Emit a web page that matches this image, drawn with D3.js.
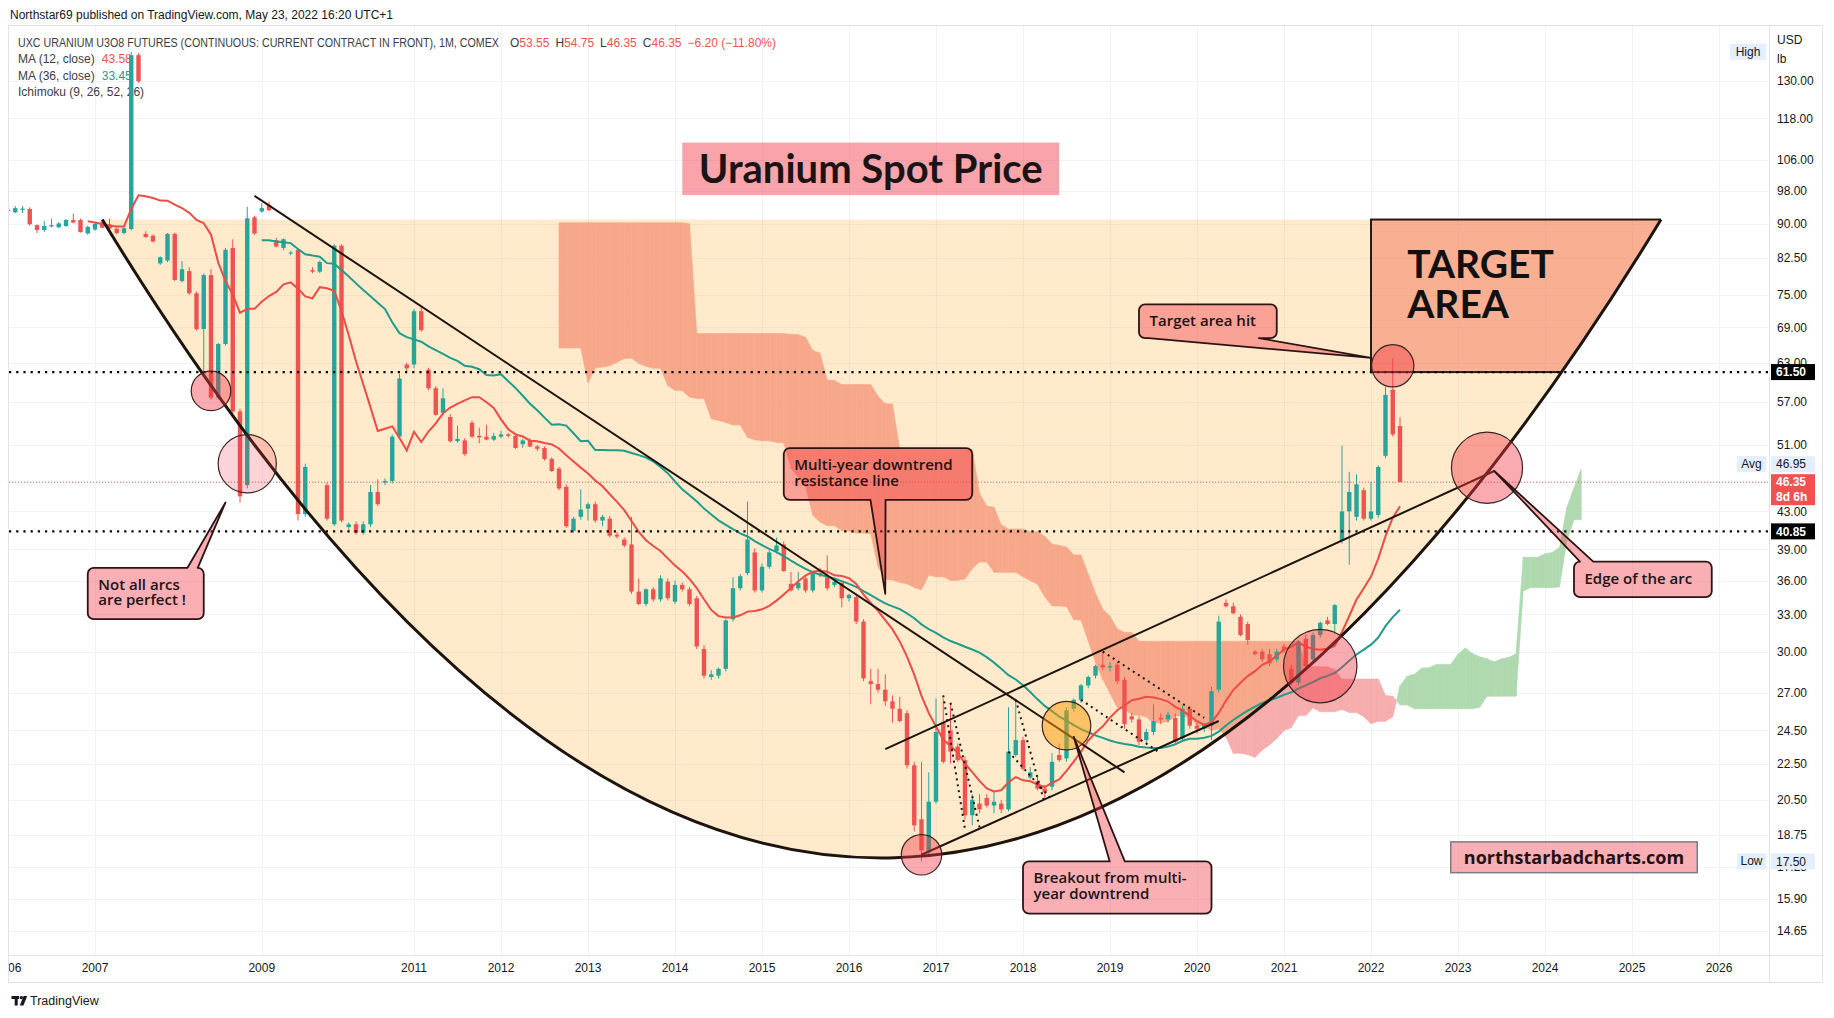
<!DOCTYPE html>
<html>
<head>
<meta charset="utf-8">
<title>Uranium Spot Price</title>
<script src="https://cdn.jsdelivr.net/npm/d3@7"></script>
<style>
  html, body { margin: 0; padding: 0; background: #fff; }
  svg { display: block; }
</style>
</head>
<body>
<svg id="chart" width="1834" height="1018"></svg>
<script>
// monthly bars: month, open, high, low, close (a few months are missing in the feed)
const candles = [
  ["2006-01", 93.0, 93.8, 92.4, 93.3], ["2006-02", 92.7, 94.2, 92.5, 93.7], ["2006-03", 93.3, 94.2, 92.6, 93.6],
  ["2006-04", 93.5, 93.9, 89.6, 89.9], ["2006-05", 89.7, 89.9, 87.9, 88.6], ["2006-06", 88.6, 90.7, 88.2, 89.5],
  ["2006-07", 89.4, 91.2, 89.2, 89.7], ["2006-08", 89.2, 90.4, 89.0, 90.1], ["2006-09", 89.5, 91.1, 89.3, 90.9],
  ["2006-10", 90.9, 92.4, 90.1, 90.3], ["2006-11", 90.9, 91.2, 88.0, 88.1], ["2006-12", 87.8, 89.6, 87.5, 89.3],
  ["2007-01", 88.7, 90.3, 88.4, 90.0], ["2007-02", 90.4, 91.0, 89.0, 89.1], ["2007-03", 89.9, 91.2, 88.7, 88.9],
  ["2007-04", 88.9, 89.2, 87.6, 87.9], ["2007-05", 87.9, 89.2, 87.6, 89.0], ["2007-06", 88.8, 140.0, 88.5, 138.8],
  ["2007-07", 138.8, 139.5, 129.3, 129.8], ["2007-08", 87.7, 88.3, 86.8, 87.0], ["2007-09", 87.3, 87.6, 85.8, 86.0],
  ["2007-10", 81.3, 82.8, 81.0, 82.6], ["2007-11", 81.9, 87.9, 81.6, 87.7], ["2007-12", 87.7, 88.0, 77.7, 77.9],
  ["2008-01", 77.7, 81.8, 77.4, 80.1], ["2008-02", 79.7, 80.5, 75.0, 75.3], ["2008-03", 75.3, 75.6, 68.4, 68.7],
  ["2008-04", 68.7, 79.2, 61.3, 78.9], ["2008-05", 78.9, 80.1, 57.3, 57.6], ["2008-06", 57.6, 66.3, 57.3, 66.1],
  ["2008-07", 66.1, 84.6, 65.8, 84.2], ["2008-08", 84.6, 86.5, 55.3, 55.6], ["2008-09", 55.6, 56.0, 44.0, 44.7],
  ["2008-10", 46.0, 94.0, 45.6, 91.3], ["2008-11", 91.5, 91.9, 87.5, 87.8],
  ["2009-01", 92.9, 94.9, 92.6, 93.7], ["2009-02", 94.5, 95.3, 93.0, 93.2], ["2009-03", 86.3, 86.8, 84.7, 84.9],
  ["2009-04", 84.6, 86.7, 84.1, 86.5], ["2009-05", 83.4, 84.0, 83.0, 83.6], ["2009-06", 84.2, 84.5, 42.0, 42.7],
  ["2009-07", 42.7, 48.6, 42.4, 48.2], ["2009-08", 79.9, 80.5, 79.3, 79.6], ["2009-09", 79.6, 81.9, 79.3, 81.6],
  ["2009-10", 46.0, 46.3, 42.0, 42.2], ["2009-11", 41.6, 85.4, 41.4, 85.1],
  ["2010-01", 85.1, 85.4, 41.8, 42.0], ["2010-02", 41.3, 41.8, 41.0, 41.6], ["2010-03", 41.6, 41.9, 40.5, 40.7],
  ["2010-04", 40.7, 41.9, 40.5, 41.6], ["2010-05", 41.6, 46.0, 41.3, 45.2],
  ["2010-07", 45.2, 46.7, 43.6, 43.8], ["2010-08", 46.3, 46.8, 46.0, 46.5], ["2010-09", 46.5, 52.4, 46.2, 52.1],
  ["2010-10", 52.1, 61.2, 51.8, 60.5], ["2010-11", 62.7, 63.0, 61.6, 62.1],
  ["2011-01", 62.7, 72.3, 62.1, 71.9], ["2011-02", 71.9, 72.9, 68.2, 68.5], ["2011-03", 61.9, 62.2, 58.7, 59.0],
  ["2011-04", 59.0, 59.3, 55.0, 55.1], ["2011-05", 55.4, 59.0, 55.1, 57.5], ["2011-06", 54.8, 55.2, 51.3, 51.5],
  ["2011-07", 51.5, 53.6, 51.3, 51.8], ["2011-08", 51.6, 51.9, 49.6, 49.8], ["2011-09", 54.0, 54.3, 51.9, 52.1],
  ["2011-10", 52.2, 53.3, 51.2, 52.0], ["2011-11", 52.1, 53.7, 51.6, 51.7], ["2011-12", 51.7, 52.6, 51.5, 52.2],
  ["2012-01", 52.1, 52.9, 51.9, 52.4], ["2012-02", 52.4, 52.6, 52.0, 52.2], ["2012-03", 52.2, 52.4, 50.5, 50.6],
  ["2012-04", 51.1, 51.8, 50.6, 51.6], ["2012-05", 51.6, 51.9, 50.7, 50.8], ["2012-06", 50.8, 51.0, 50.2, 50.5],
  ["2012-07", 50.6, 50.8, 49.0, 49.2], ["2012-08", 49.2, 49.4, 47.6, 47.7], ["2012-09", 48.0, 48.2, 45.4, 45.6],
  ["2012-10", 45.8, 46.1, 41.2, 41.4], ["2012-11", 40.9, 42.4, 40.7, 42.2], ["2012-12", 42.4, 45.5, 42.1, 43.2],
  ["2013-01", 43.3, 44.0, 42.0, 43.8], ["2013-02", 43.8, 44.1, 41.8, 42.0], ["2013-03", 42.0, 42.6, 41.4, 42.4],
  ["2013-04", 42.2, 42.5, 40.2, 40.4], ["2013-05", 40.5, 40.8, 40.1, 40.3], ["2013-06", 40.0, 40.2, 39.2, 39.4],
  ["2013-07", 39.5, 42.4, 34.8, 35.0], ["2013-08", 35.0, 36.2, 33.8, 33.9], ["2013-09", 33.9, 35.3, 33.7, 35.2],
  ["2013-10", 35.2, 35.4, 34.1, 34.3], ["2013-11", 34.3, 36.5, 34.1, 36.2], ["2013-12", 35.9, 36.2, 34.2, 34.4],
  ["2014-01", 34.1, 36.0, 33.9, 35.6], ["2014-02", 35.6, 35.8, 35.0, 35.2], ["2014-03", 35.2, 35.4, 33.7, 33.9],
  ["2014-04", 34.4, 34.6, 30.2, 30.4], ["2014-05", 30.2, 30.5, 28.0, 28.2], ["2014-06", 28.1, 28.6, 27.9, 28.3],
  ["2014-07", 28.2, 28.8, 28.0, 28.7], ["2014-08", 28.7, 32.6, 28.5, 32.5], ["2014-09", 32.6, 36.3, 32.4, 35.3],
  ["2014-10", 35.3, 36.6, 35.1, 36.4], ["2014-11", 36.7, 44.1, 36.5, 40.0], ["2014-12", 38.7, 39.1, 34.9, 35.1],
  ["2015-01", 35.1, 37.6, 34.9, 37.3], ["2015-02", 37.3, 38.9, 37.1, 38.7], ["2015-03", 38.8, 40.2, 38.6, 39.4],
  ["2015-04", 39.5, 39.8, 36.8, 36.9], ["2015-05", 35.7, 36.8, 35.0, 35.1], ["2015-06", 35.3, 36.8, 35.1, 35.8],
  ["2015-07", 36.2, 36.4, 34.9, 35.1], ["2015-08", 35.1, 36.9, 34.9, 36.7], ["2015-09", 36.7, 37.2, 36.3, 36.6],
  ["2015-10", 36.3, 38.4, 35.1, 35.3], ["2015-11", 35.6, 36.1, 35.4, 35.9], ["2015-12", 35.8, 36.0, 33.6, 34.4],
  ["2016-01", 34.4, 34.8, 34.1, 34.7], ["2016-02", 34.5, 34.8, 32.2, 32.4], ["2016-03", 32.4, 32.6, 27.8, 28.0],
  ["2016-04", 27.8, 28.7, 26.2, 27.6], ["2016-05", 27.6, 28.7, 27.0, 27.2], ["2016-06", 27.2, 28.3, 26.1, 26.4],
  ["2016-07", 26.4, 26.8, 25.0, 25.9], ["2016-08", 25.9, 26.7, 25.0, 25.1], ["2016-09", 25.6, 25.8, 22.2, 22.4],
  ["2016-10", 22.4, 22.6, 18.9, 19.2], ["2016-11", 19.5, 22.6, 17.5, 18.0], ["2016-12", 17.9, 22.0, 17.7, 20.4],
  ["2017-01", 20.4, 26.6, 20.3, 24.4], ["2017-02", 25.0, 26.6, 22.5, 22.6], ["2017-03", 24.5, 26.2, 22.5, 23.2],
  ["2017-04", 23.5, 23.7, 22.6, 22.7], ["2017-05", 22.7, 22.9, 19.5, 19.7], ["2017-06", 19.7, 20.8, 19.2, 20.5],
  ["2017-07", 20.3, 20.8, 19.8, 20.0], ["2017-08", 20.6, 20.8, 20.1, 20.2], ["2017-09", 20.2, 20.9, 19.8, 20.4],
  ["2017-10", 20.3, 20.5, 19.8, 20.0], ["2017-11", 20.0, 26.0, 19.9, 23.2], ["2017-12", 23.0, 26.4, 22.9, 23.9],
  ["2018-01", 23.9, 24.1, 22.1, 22.2], ["2018-02", 21.7, 22.3, 21.6, 22.0], ["2018-03", 21.5, 21.8, 21.0, 21.1],
  ["2018-04", 21.1, 21.3, 20.5, 20.9], ["2018-05", 21.2, 23.1, 21.0, 22.6], ["2018-06", 23.0, 23.7, 22.6, 22.7],
  ["2018-07", 22.8, 26.0, 22.6, 25.8], ["2018-08", 25.9, 26.6, 25.7, 26.5], ["2018-09", 26.5, 27.6, 26.3, 27.5],
  ["2018-10", 27.5, 28.2, 27.3, 28.1], ["2018-11", 28.2, 29.0, 28.0, 28.9], ["2018-12", 29.0, 30.0, 28.6, 28.8],
  ["2019-01", 28.8, 29.2, 28.5, 28.9], ["2019-02", 29.0, 29.2, 27.6, 27.8], ["2019-03", 27.9, 28.1, 24.6, 24.9],
  ["2019-04", 25.4, 25.6, 25.0, 25.2], ["2019-05", 25.2, 25.4, 23.6, 23.8], ["2019-06", 23.9, 24.6, 23.7, 24.4],
  ["2019-07", 24.4, 26.2, 24.2, 25.1], ["2019-08", 25.3, 25.6, 24.9, 25.2], ["2019-09", 25.2, 25.7, 25.0, 25.5],
  ["2019-10", 25.3, 25.6, 23.6, 23.8], ["2019-11", 24.0, 26.1, 23.8, 25.9], ["2019-12", 25.9, 26.1, 24.6, 24.8],
  ["2020-01", 24.8, 25.0, 24.3, 24.6], ["2020-02", 24.6, 25.0, 24.4, 24.9], ["2020-03", 24.8, 27.4, 23.9, 27.1],
  ["2020-04", 27.2, 32.9, 27.0, 32.4], ["2020-05", 34.0, 34.3, 33.6, 33.7], ["2020-06", 33.7, 34.0, 33.0, 33.1],
  ["2020-07", 32.8, 33.0, 31.2, 31.3], ["2020-08", 32.2, 32.4, 30.5, 30.9], ["2020-09", 30.0, 30.1, 29.7, 29.8],
  ["2020-10", 30.0, 30.2, 29.2, 29.4], ["2020-11", 29.8, 30.2, 28.9, 29.1], ["2020-12", 29.4, 30.2, 29.2, 30.0],
  ["2021-01", 30.4, 30.6, 29.9, 30.1], ["2021-02", 28.7, 29.0, 27.5, 27.7], ["2021-03", 27.7, 30.9, 27.5, 30.8],
  ["2021-04", 31.0, 31.3, 28.7, 28.9], ["2021-05", 29.4, 31.5, 29.1, 31.3], ["2021-06", 31.3, 32.4, 31.1, 32.3],
  ["2021-07", 32.5, 32.8, 32.1, 32.2], ["2021-08", 32.2, 33.9, 31.4, 33.8], ["2021-09", 39.9, 50.9, 39.6, 43.0],
  ["2021-10", 43.0, 47.6, 37.5, 45.2], ["2021-11", 42.4, 47.3, 42.0, 46.1], ["2021-12", 45.4, 45.7, 42.0, 42.2],
  ["2022-01", 42.2, 46.4, 42.0, 43.0], ["2022-02", 42.6, 48.4, 42.3, 48.2], ["2022-03", 49.6, 59.2, 49.3, 58.0],
  ["2022-04", 58.8, 63.7, 52.1, 52.4], ["2022-05", 53.55, 54.75, 46.35, 46.35]
];

const yearTicks = ["2006", "2007", "2009", "2011", "2012", "2013", "2014", "2015", "2016", "2017",
  "2018", "2019", "2020", "2021", "2022", "2023", "2024", "2025", "2026"];
const priceTicks = [130, 118, 106, 98, 90, 82.5, 75, 69, 63, 57, 51, 43, 39, 36, 33, 30, 27,
  24.5, 22.5, 20.5, 18.75, 17.25, 15.9, 14.65];
const keyLevels = [61.5, 40.85];
const lastClose = 46.35, avgClose = 46.95, rangeLow = 17.5, rangeHigh = 140.0;

// author's drawings, anchored on [month, price]
const arcAnchors = [["2007-02", 91], ["2013-08", 9.47], ["2019-08", 11.05], ["2025-05", 91]];
const targetArea = [["2022-01", 91], ["2025-05", 61.5]];
const trendLines = [
  [["2008-11", 96.7], ["2019-03", 22.0]],
  [["2016-06", 23.35], ["2023-06", 47.7]],
  [["2016-11", 17.8], ["2020-04", 25.1]]
];
const dottedLines = [
  [["2017-02", 26.8], ["2017-05", 19.0]],
  [["2017-03", 26.3], ["2017-07", 19.1]],
  [["2017-12", 26.5], ["2018-04", 20.3]],
  [["2017-11", 23.2], ["2018-05", 20.5]],
  [["2018-12", 30.0], ["2020-02", 25.3]],
  [["2018-09", 26.5], ["2019-08", 23.1]]
];
// circle: centre month, centre price, price on the rim straight below
const redCircles = [
  ["2008-05", 58.6, 55.7], ["2016-11", 17.8, 16.9], ["2021-06", 28.9, 26.3],
  ["2022-04", 62.5, 59.2], ["2023-05", 48.1, 43.9]
];
const paleCircles = [["2008-10", 48.6, 45.1]];
const orangeCircles = [["2018-07", 24.8, 23.3]];

const callouts = [
  { text: ["Not all arcs", "are perfect !"], from: ["2006-12", 37.2], to: ["2008-04", 32.6], side: "top", base: [0.86, 0.95], tip: ["2008-07", 44.0] },
  { text: ["Multi-year downtrend", "resistance line"], from: ["2015-04", 50.6], to: ["2017-06", 44.3], side: "bottom", base: [0.46, 0.54], tip: ["2016-06", 34.8] },
  { text: ["Target area hit"], from: ["2019-05", 73.2], to: ["2020-12", 67.1], side: "bottom", base: [0.07, 0.87], tip: ["2022-01", 63.8] },
  { text: ["Edge of the arc"], from: ["2024-05", 37.8], to: ["2025-12", 34.5], side: "top", base: [0.04, 0.14], tip: ["2023-06", 47.7] },
  { text: ["Breakout from multi-", "year downtrend"], from: ["2018-01", 17.5], to: ["2020-03", 15.3], side: "top", base: [0.46, 0.54], tip: ["2018-08", 24.1] }
];
const titleBox = { text: "Uranium Spot Price", from: ["2014-02", 110.9], to: ["2018-06", 96.9] };
const siteBox = { text: "northstarbadcharts.com", from: ["2022-12", 18.4], to: ["2025-10", 17.0] };
const targetLabel = { text: ["TARGET", "AREA"], at: ["2022-06", 78.3] };

const publishLine = "Northstar69 published on TradingView.com, May 23, 2022 16:20 UTC+1";
const symbolLine = "UXC URANIUM U3O8 FUTURES (CONTINUOUS: CURRENT CONTRACT IN FRONT), 1M, COMEX";
const ohlcLegend = [["O", "53.55"], ["H", "54.75"], ["L", "46.35"], ["C", "46.35"]];
const changeLegend = "\u22126.20 (\u221211.80%)";
const maLegend = [["MA (12, close)", "43.58"], ["MA (36, close)", "33.45"]];
const ichiLegend = "Ichimoku (9, 26, 52, 26)";

// ---------------------------------------------------------------
const svg = d3.select("#chart");
const pane = { l: 9, t: 26, r: 1769, b: 955 };
const outerR = 1822, outerB = 982;
const UP = "#26a69a", DOWN = "#ef5350", INK = "#131722";
const uiFont = "'Liberation Sans', Arial, sans-serif";
const noteFont = "'Open Sans', sans-serif";

const monthPos = new Map(candles.map((d, i) => [d[0], i]));
const lastMonth = candles[candles.length - 1][0];
const mNum = m => { const [yy, mm] = m.split("-").map(Number); return yy * 12 + mm - 1; };
const bar = m => monthPos.has(m) ? monthPos.get(m) : candles.length - 1 + mNum(m) - mNum(lastMonth);

const x = d3.scaleLinear().domain([bar("2006-01"), bar("2026-01")]).range([8, 1719]);
const y = d3.scaleLog().domain([13.76, 149.6]).range([pane.b, pane.t]);
const pt = a => [x(bar(a[0])), y(a[1])];

svg.append("rect").attr("width", 1834).attr("height", 1018).attr("fill", "#fff");
const defs = svg.append("defs");
defs.append("clipPath").attr("id", "pane").append("rect")
  .attr("x", pane.l).attr("y", pane.t).attr("width", pane.r - pane.l).attr("height", pane.b - pane.t);
defs.append("clipPath").attr("id", "timeaxis").append("rect")
  .attr("x", pane.l).attr("y", pane.b).attr("width", pane.r - pane.l).attr("height", outerB - pane.b);

// grid
const grid = svg.append("g").attr("stroke", "#f0f3fa").attr("stroke-width", 1);
priceTicks.forEach(p => grid.append("line").attr("x1", pane.l).attr("x2", pane.r)
  .attr("y1", Math.round(y(p)) + 0.5).attr("y2", Math.round(y(p)) + 0.5));
yearTicks.forEach(t => grid.append("line").attr("y1", pane.t).attr("y2", pane.b)
  .attr("x1", Math.round(x(bar(t + "-01"))) + 0.5).attr("x2", Math.round(x(bar(t + "-01"))) + 0.5));

// legend (sits under the series, like the original)
const legend = svg.append("g").attr("font-family", uiFont).attr("font-size", 12).attr("fill", "#3a3d48");
legend.append("text").attr("x", 10).attr("y", 18.5).attr("fill", INK).text(publishLine);
// the symbol name is set in a narrower face in the original: squeeze it to the same width
const sym = legend.append("text").attr("x", 0).attr("y", 0).text(symbolLine);
const symW = sym.node().getComputedTextLength();
sym.attr("transform", `translate(18,46.5) scale(${481 / symW},1)`);
const l1 = legend.append("text").attr("x", 510).attr("y", 46.5);
ohlcLegend.forEach(([k, v], i) => {
  l1.append("tspan").attr("dx", i === 0 ? 0 : 6).text(k);
  l1.append("tspan").attr("fill", DOWN).text(v);
});
l1.append("tspan").attr("dx", 6).attr("fill", DOWN).text(changeLegend);
maLegend.forEach(([k, v], i) => {
  const t = legend.append("text").attr("x", 18).attr("y", 63 + i * 16.5);
  t.append("tspan").text(k);
  t.append("tspan").attr("dx", 7).attr("fill", i === 0 ? DOWN : "#1f9c8b").text(v);
});
legend.append("text").attr("x", 18).attr("y", 96).text(ichiLegend);

const plot = svg.append("g").attr("clip-path", "url(#pane)");

// Ichimoku cloud, leading spans shifted 25 bars forward
function mid(i, len) {
  let hi = -Infinity, lo = Infinity;
  for (let k = i - len + 1; k <= i; k++) { hi = Math.max(hi, candles[k][2]); lo = Math.min(lo, candles[k][3]); }
  return (hi + lo) / 2;
}
const lead = [];
for (let i = 51; i < candles.length; i++) {
  lead.push({ i: i + 25, a: (mid(i, 9) + mid(i, 26)) / 2, b: mid(i, 52) });
}
const cloud = plot.append("g");
function cloudPoly(pts, bull) {
  const c = bull ? "#afdab0" : "#f6adad";
  cloud.append("path").attr("d", "M" + pts.map(p => p.join(",")).join("L") + "Z")
    .attr("fill", c).attr("stroke", c).attr("stroke-width", 0.6);
}
for (let k = 0; k < lead.length - 1; k++) {
  const p = lead[k], q = lead[k + 1];
  const x0 = x(p.i), x1 = x(q.i);
  const a0 = y(p.a), b0 = y(p.b), a1 = y(q.a), b1 = y(q.b);
  const d0 = a0 - b0, d1 = a1 - b1;
  if (d0 * d1 < 0) {
    const t = d0 / (d0 - d1), xc = x0 + t * (x1 - x0), yc = a0 + t * (a1 - a0);
    cloudPoly([[x0, a0], [xc, yc], [x0, b0]], d0 < 0);
    cloudPoly([[xc, yc], [x1, a1], [x1, b1]], d1 < 0);
  } else {
    cloudPoly([[x0, a0], [x1, a1], [x1, b1], [x0, b0]], d0 + d1 < 0);
  }
}

// the arc
const [A0, A1, A2, A3] = arcAnchors.map(pt);
const arcCurve = `M${A0}C${A1} ${A2} ${A3}`;
plot.append("path").attr("d", arcCurve + "Z").attr("fill", "rgba(255,152,0,0.2)");
defs.append("clipPath").attr("id", "arcclip").append("path")
  .attr("d", arcCurve + `L${A3[0]},${A3[1] - 4}L${A0[0]},${A0[1] - 4}Z`);

// target area
const [T0, T1] = targetArea.map(pt);
plot.append("g").attr("clip-path", "url(#arcclip)").append("rect")
  .attr("x", T0[0]).attr("y", T0[1]).attr("width", T1[0] - T0[0] + 40).attr("height", T1[1] - T0[1])
  .attr("fill", "rgba(240,90,60,0.4)").attr("stroke", "#2a1a14").attr("stroke-width", 2);

// candles
const bodyW = 4.4;
const cg = plot.append("g");
candles.forEach((d, i) => {
  const [, o, h, l, c] = d;
  const cx = x(i), col = c >= o ? UP : DOWN;
  cg.append("line").attr("x1", cx).attr("x2", cx).attr("y1", y(h)).attr("y2", y(l))
    .attr("stroke", col).attr("stroke-width", 1);
  const top = y(Math.max(o, c)), bot = y(Math.min(o, c));
  cg.append("rect").attr("x", cx - bodyW / 2).attr("y", top).attr("width", bodyW)
    .attr("height", Math.max(1, bot - top)).attr("fill", col);
});

// moving averages
const closes = candles.map(d => d[4]);
function sma(n) {
  const out = []; let s = 0;
  closes.forEach((c, i) => { s += c; if (i >= n) s -= closes[i - n]; if (i >= n - 1) out.push([i, s / n]); });
  return out;
}
const maLine = d3.line().x(d => x(d[0])).y(d => y(d[1]));
plot.append("path").attr("d", maLine(sma(36))).attr("fill", "none").attr("stroke", "#1f9c8b").attr("stroke-width", 2);
plot.append("path").attr("d", maLine(sma(12))).attr("fill", "none").attr("stroke", "#ef4b45").attr("stroke-width", 2);

// horizontal levels
keyLevels.forEach(v => plot.append("line").attr("x1", pane.l).attr("x2", pane.r)
  .attr("y1", y(v)).attr("y2", y(v)).attr("stroke", "#000").attr("stroke-width", 2.2).attr("stroke-dasharray", "2.2 5"));
plot.append("line").attr("x1", pane.l).attr("x2", pane.r).attr("y1", y(lastClose)).attr("y2", y(lastClose))
  .attr("stroke", DOWN).attr("stroke-width", 1).attr("stroke-dasharray", "1 2");

// drawings
const ink = "#1e140e";
dottedLines.forEach(([a, b]) => {
  const p = pt(a), q = pt(b);
  plot.append("line").attr("x1", p[0]).attr("y1", p[1]).attr("x2", q[0]).attr("y2", q[1])
    .attr("stroke", ink).attr("stroke-width", 2).attr("stroke-dasharray", "2 4");
});
trendLines.forEach(([a, b]) => {
  const p = pt(a), q = pt(b);
  plot.append("line").attr("x1", p[0]).attr("y1", p[1]).attr("x2", q[0]).attr("y2", q[1])
    .attr("stroke", ink).attr("stroke-width", 2);
});
plot.append("path").attr("d", arcCurve).attr("fill", "none").attr("stroke", ink).attr("stroke-width", 3);

// circles
function drawCircles(list, fill) {
  list.forEach(([m, p, rim]) => {
    plot.append("circle").attr("cx", x(bar(m))).attr("cy", y(p)).attr("r", y(rim) - y(p))
      .attr("fill", fill).attr("stroke", "#3a2424").attr("stroke-width", 1.2);
  });
}
drawCircles(paleCircles, "rgba(242,54,69,0.22)");
drawCircles(redCircles, "rgba(242,54,69,0.42)");
drawCircles(orangeCircles, "rgba(255,152,0,0.5)");

// callouts
function calloutPath(x0, y0, x1, y1, side, f, tip) {
  const r = 6, p = d3.path();
  const clampX = v => Math.max(x0 + r, Math.min(x1 - r, v));
  const clampY = v => Math.max(y0 + r, Math.min(y1 - r, v));
  const bx0 = clampX(x0 + f[0] * (x1 - x0)), bx1 = clampX(x0 + f[1] * (x1 - x0));
  const by0 = clampY(y0 + f[0] * (y1 - y0)), by1 = clampY(y0 + f[1] * (y1 - y0));
  p.moveTo(x0 + r, y0);
  if (side === "top") { p.lineTo(bx0, y0); p.lineTo(tip[0], tip[1]); p.lineTo(bx1, y0); }
  p.lineTo(x1 - r, y0); p.arcTo(x1, y0, x1, y0 + r, r);
  if (side === "right") { p.lineTo(x1, by0); p.lineTo(tip[0], tip[1]); p.lineTo(x1, by1); }
  p.lineTo(x1, y1 - r); p.arcTo(x1, y1, x1 - r, y1, r);
  if (side === "bottom") { p.lineTo(bx1, y1); p.lineTo(tip[0], tip[1]); p.lineTo(bx0, y1); }
  p.lineTo(x0 + r, y1); p.arcTo(x0, y1, x0, y1 - r, r);
  if (side === "left") { p.lineTo(x0, by1); p.lineTo(tip[0], tip[1]); p.lineTo(x0, by0); }
  p.lineTo(x0, y0 + r); p.arcTo(x0, y0, x0 + r, y0, r);
  p.closePath();
  return p.toString();
}
callouts.forEach(c => {
  const [x0, y0] = pt(c.from), [x1, y1] = pt(c.to);
  plot.append("path").attr("d", calloutPath(x0, y0, x1, y1, c.side, c.base, pt(c.tip)))
    .attr("fill", "rgba(242,54,69,0.4)").attr("stroke", "#2d1414").attr("stroke-width", 1.8)
    .attr("stroke-linejoin", "round");
  const t = plot.append("text").attr("font-family", noteFont).attr("font-weight", 600)
    .attr("font-size", 15).attr("fill", "#1c1414");
  c.text.forEach((line, i) => t.append("tspan").attr("x", x0 + 10.5).attr("y", y0 + 22 + i * 15.5).text(line));
});

// title, target label, site box
{
  const [x0, y0] = pt(titleBox.from), [x1, y1] = pt(titleBox.to);
  plot.append("rect").attr("x", x0).attr("y", y0).attr("width", x1 - x0).attr("height", y1 - y0)
    .attr("fill", "rgba(242,54,69,0.45)");
  plot.append("text").attr("x", (x0 + x1) / 2).attr("y", (y0 + y1) / 2).attr("dy", "0.36em")
    .attr("text-anchor", "middle").attr("font-family", "Lato, sans-serif").attr("font-weight", 700)
    .attr("font-size", 40).attr("fill", "#1c1414").text(titleBox.text);
}
{
  const [tx, ty] = pt(targetLabel.at);
  const t = plot.append("text").attr("font-family", "Lato, sans-serif").attr("font-weight", 700)
    .attr("font-size", 39).attr("fill", "#111");
  targetLabel.text.forEach((line, i) => t.append("tspan").attr("x", tx).attr("y", ty + i * 39.5).text(line));
}
{
  const [x0, y0] = pt(siteBox.from), [x1, y1] = pt(siteBox.to);
  plot.append("rect").attr("x", x0).attr("y", y0).attr("width", x1 - x0).attr("height", y1 - y0)
    .attr("fill", "rgba(242,54,69,0.4)").attr("stroke", "#7a7d88").attr("stroke-width", 1.5);
  plot.append("text").attr("x", (x0 + x1) / 2).attr("y", (y0 + y1) / 2).attr("dy", "0.36em")
    .attr("text-anchor", "middle").attr("font-family", noteFont).attr("font-weight", 700)
    .attr("font-size", 18).attr("fill", "#1c1414").text(siteBox.text);
}

// pane labels: High / Avg / Low
function paneTag(label, cy) {
  const g = svg.append("g");
  const w = label.length * 7 + 8;
  g.append("rect").attr("x", pane.r - 3 - w).attr("y", cy - 8).attr("width", w).attr("height", 16).attr("fill", "#e3effd");
  g.append("text").attr("x", pane.r - 3 - w / 2).attr("y", cy + 4).attr("text-anchor", "middle")
    .attr("font-family", uiFont).attr("font-size", 12).attr("fill", INK).text(label);
}
paneTag("High", y(rangeHigh));
paneTag("Avg", y(avgClose) - 13);
paneTag("Low", y(rangeLow));

// frame
const frame = svg.append("g").attr("stroke", "#e0e3eb").attr("stroke-width", 1).attr("fill", "none");
frame.append("path").attr("d", `M${pane.l - 0.5},${pane.t - 0.5}H${outerR + 0.5}V${outerB + 0.5}H${pane.l - 0.5}Z`);
frame.append("line").attr("x1", pane.r + 0.5).attr("x2", pane.r + 0.5).attr("y1", pane.t).attr("y2", outerB);
frame.append("line").attr("x1", pane.l).attr("x2", outerR).attr("y1", pane.b + 0.5).attr("y2", pane.b + 0.5);

// price axis
const pa = svg.append("g").attr("font-family", uiFont).attr("font-size", 12).attr("fill", INK);
pa.append("text").attr("x", 1777).attr("y", 44).text("USD");
pa.append("text").attr("x", 1777).attr("y", 63).text("lb");
priceTicks.forEach(p => pa.append("text").attr("x", 1777).attr("y", y(p) + 4.3).text(p.toFixed(2)));
function axisTag(lines, cy, bg, fg, h) {
  pa.append("rect").attr("x", 1771).attr("y", cy - 8).attr("width", 44).attr("height", h).attr("fill", bg);
  lines.forEach((s, i) => pa.append("text").attr("x", 1776).attr("y", cy + 4.3 + i * 15)
    .attr("fill", fg).attr("font-weight", bg === "#e3effd" ? 400 : 700).text(s));
}
keyLevels.forEach(v => axisTag([v.toFixed(2)], y(v), "#000", "#fff", 16));
axisTag([avgClose.toFixed(2)], y(avgClose) - 13, "#e3effd", INK, 16);
axisTag([lastClose.toFixed(2), "8d 6h"], y(lastClose), DOWN, "#fff", 31);
axisTag([rangeLow.toFixed(2)], y(rangeLow), "#e3effd", INK, 16);

// time axis
const ta = svg.append("g").attr("clip-path", "url(#timeaxis)").attr("font-family", uiFont)
  .attr("font-size", 12).attr("fill", INK).attr("text-anchor", "middle");
yearTicks.forEach(t => ta.append("text").attr("x", x(bar(t + "-01"))).attr("y", 972).text(t));

// TradingView mark
const mark = svg.append("g").attr("fill", INK);
mark.append("rect").attr("x", 11.5).attr("y", 996).attr("width", 7.5).attr("height", 3);
mark.append("rect").attr("x", 14.7).attr("y", 996).attr("width", 3).attr("height", 9.5);
mark.append("circle").attr("cx", 21.3).attr("cy", 997.6).attr("r", 1.7);
mark.append("path").attr("d", "M23.6,996L27.2,996L23.4,1005.5L19.8,1005.5Z");
svg.append("text").attr("x", 30).attr("y", 1005).attr("font-family", uiFont).attr("font-size", 12.5)
  .attr("fill", INK).text("TradingView");
</script>
</body>
</html>
